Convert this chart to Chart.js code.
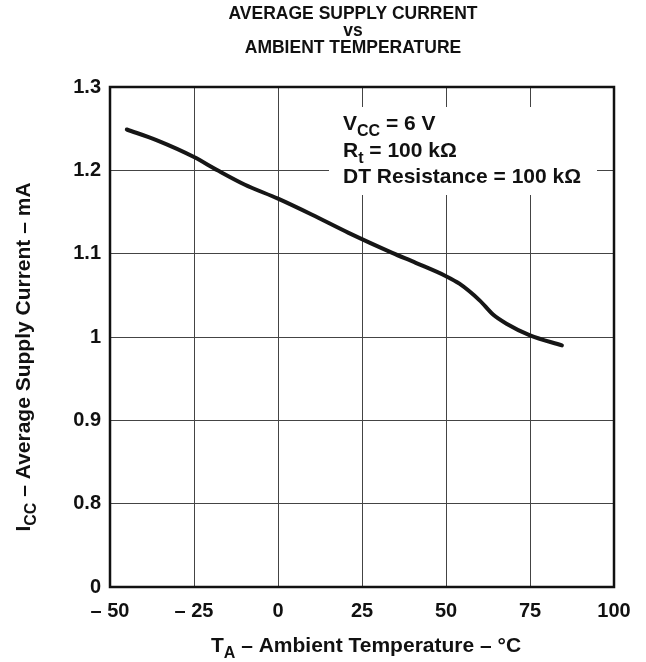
<!DOCTYPE html>
<html>
<head>
<meta charset="utf-8">
<script src="https://cdn.jsdelivr.net/npm/chart.js@4.4.1/dist/chart.umd.min.js"></script>
<style>
  body { margin: 0; background: #fff; }
  canvas { display: block; }
</style>
</head>
<body>
<canvas id="chart" width="646" height="662"></canvas>
<script>
// values
const temps = [-45, -36, -25, -18, -10, 0, 10, 21, 34, 41, 50, 54, 60, 64, 68, 75, 84.5];
const icc = [1.249, 1.236, 1.216, 1.2, 1.183, 1.166, 1.147, 1.125, 1.101, 1.089, 1.073, 1.064, 1.044, 1.027, 1.016, 1.002, 0.99];

const xTicks = [-50, -25, 0, 25, 50, 75, 100];
// axis is broken: the bottom step stands for 0
const yTicks = [0.7, 0.8, 0.9, 1.0, 1.1, 1.2, 1.3];
const yBreakValue = 0.7;

const titleLines = ["AVERAGE SUPPLY CURRENT", "vs", "AMBIENT TEMPERATURE"];
const noteLines = [
  [{ t: "V" }, { t: "CC", sub: true }, { t: " = 6 V" }],
  [{ t: "R" }, { t: "t", sub: true }, { t: " = 100 k\u03A9" }],
  [{ t: "DT Resistance = 100 k\u03A9" }],
];
const xTitle = [{ t: "T" }, { t: "A", sub: true }, { t: " \u2013 Ambient Temperature \u2013 \u00B0C" }];
const yTitle = [{ t: "I" }, { t: "CC", sub: true }, { t: " \u2013 Average Supply Current \u2013 mA" }];

const FONT = '"Liberation Sans", Arial, Helvetica, sans-serif';
const TICK_SIZE = 20;
const TEXT_SIZE = 21;

function font(px) {
  return "bold " + px + "px " + FONT;
}

function richWidth(ctx, parts, size) {
  let w = 0;
  parts.forEach(p => {
    ctx.font = font(p.sub ? size - 5 : size);
    w += ctx.measureText(p.t).width;
  });
  return w;
}

function drawRich(ctx, parts, x, y, size) {
  parts.forEach(p => {
    ctx.font = font(p.sub ? size - 5 : size);
    ctx.fillText(p.t, x, p.sub ? y + 6 : y);
    x += ctx.measureText(p.t).width;
  });
}

const extras = {
  id: "extras",
  beforeDatasetsDraw(chart) {
    const ctx = chart.ctx;
    ctx.save();
    // white box behind the conditions text
    ctx.fillStyle = "#fff";
    ctx.fillRect(329, 107, 268, 88);
    ctx.fillStyle = "#111";
    ctx.textAlign = "left";
    ctx.textBaseline = "alphabetic";
    noteLines.forEach((line, i) => drawRich(ctx, line, 343, 130 + i * 26.5, TEXT_SIZE));
    ctx.restore();
  },
  afterDraw(chart) {
    const ctx = chart.ctx;
    const a = chart.chartArea;
    ctx.save();
    ctx.strokeStyle = "#111";
    ctx.lineWidth = 2.5;
    ctx.strokeRect(a.left, a.top, a.right - a.left, a.bottom - a.top);

    ctx.fillStyle = "#111";
    ctx.textAlign = "center";
    ctx.textBaseline = "middle";
    ctx.font = font(17.5);
    titleLines.forEach((t, i) => ctx.fillText(t, 353, 14 + i * 17));

    ctx.textAlign = "left";
    ctx.textBaseline = "alphabetic";
    let w = richWidth(ctx, xTitle, TEXT_SIZE);
    drawRich(ctx, xTitle, 366 - w / 2, 652, TEXT_SIZE);

    ctx.translate(30, 357);
    ctx.rotate(-Math.PI / 2);
    w = richWidth(ctx, yTitle, TEXT_SIZE);
    drawRich(ctx, yTitle, -w / 2, 0, TEXT_SIZE);
    ctx.restore();
  },
};

new Chart(document.getElementById("chart"), {
  type: "line",
  data: {
    datasets: [
      {
        data: temps.map((t, i) => ({ x: t, y: icc[i] })),
        borderColor: "#161616",
        borderWidth: 4,
        pointRadius: 0,
        cubicInterpolationMode: "monotone",
        borderCapStyle: "round",
        fill: false,
      },
    ],
  },
  options: {
    responsive: false,
    animation: false,
    devicePixelRatio: 1,
    layout: { padding: { top: 87, right: 32, left: 0, bottom: 0 } },
    plugins: { legend: { display: false }, tooltip: { enabled: false } },
    scales: {
      x: {
        type: "linear",
        min: -50,
        max: 100,
        afterBuildTicks: s => { s.ticks = xTicks.map(v => ({ value: v })); },
        afterFit: s => { s.height = 75; },
        ticks: {
          color: "#111",
          font: { family: FONT, size: TICK_SIZE, weight: "bold" },
          padding: 12,
          maxRotation: 0,
          autoSkip: false,
          callback: v => (v < 0 ? "\u2013 " + Math.abs(v) : String(v)),
        },
        grid: { color: "#444", lineWidth: 1, drawTicks: false },
        border: { display: false },
      },
      y: {
        type: "linear",
        min: yBreakValue,
        max: 1.3,
        afterBuildTicks: s => { s.ticks = yTicks.map(v => ({ value: v })); },
        afterFit: s => { s.width = 110; },
        ticks: {
          color: "#111",
          font: { family: FONT, size: TICK_SIZE, weight: "bold" },
          padding: 9,
          autoSkip: false,
          callback: v => (v <= yBreakValue + 0.01 ? "0" : String(Math.round(v * 10) / 10)),
        },
        grid: { color: "#444", lineWidth: 1, drawTicks: false },
        border: { display: false },
      },
    },
  },
  plugins: [extras],
});
</script>
</body>
</html>
